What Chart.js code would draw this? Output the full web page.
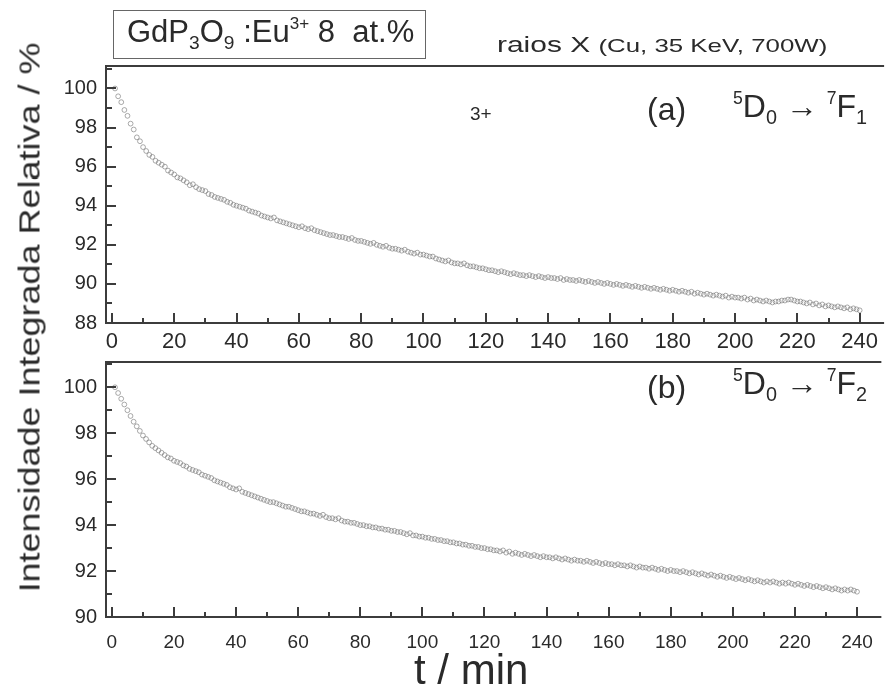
<!DOCTYPE html>
<html>
<head>
<meta charset="utf-8">
<script src="https://cdn.jsdelivr.net/npm/chart.js@4"></script>
<style>
  body { margin:0; background:#fff; width:887px; height:693px; position:relative; overflow:hidden;
         font-family:"Liberation Sans", Arial, sans-serif; color:#2a2a2a; }
  .panel { position:absolute; left:0; width:887px; }
  .txt { position:absolute; white-space:nowrap; line-height:1; }
  .txt sub { font-size:0.62em; vertical-align:-0.35em; }
  .txt sup { font-size:0.55em; vertical-align:0.75em; }
</style>
</head>
<body>
<div class="panel" style="top:0;height:360px"><canvas id="panelA"></canvas></div>
<div class="panel" style="top:340px;height:353px"><canvas id="panelB"></canvas></div>

<div class="txt" style="left:113px;top:10px;width:311px;height:47px;border:1.5px solid #666;"></div>
<div class="txt" style="left:127px;top:15px;font-size:31px;">GdP<sub>3</sub>O<sub>9</sub> :Eu<sup>3+</sup> 8&nbsp; at.%</div>
<div class="txt" style="left:497px;top:34px;font-size:22px;transform:scaleX(1.36);transform-origin:left center;">raios X <span style="font-size:19px">(Cu, 35 KeV, 700W)</span></div>
<div class="txt" style="left:470px;top:104px;font-size:19px;">3+</div>
<div class="txt" style="left:647px;top:93px;font-size:32px;">(a)</div>
<div class="txt" style="left:733px;top:90px;font-size:32px;"><sup>5</sup>D<sub>0</sub> &rarr; <sup>7</sup>F<sub>1</sub></div>
<div class="txt" style="left:647px;top:371px;font-size:32px;">(b)</div>
<div class="txt" style="left:733px;top:367px;font-size:32px;"><sup>5</sup>D<sub>0</sub> &rarr; <sup>7</sup>F<sub>2</sub></div>
<div class="txt" style="left:-270px;top:303px;width:600px;text-align:center;font-size:29px;transform:rotate(-90deg) scaleX(1.24);">Intensidade Integrada Relativa / %</div>
<div class="txt" style="left:414px;top:649px;font-size:42px;">t / min</div>

<script>
// sampling times (min) and integrated intensities for both transitions
const minutes = Array.from({length: 240}, (_, i) => i + 1);

const intensF1 = [
  100.0, 99.6, 99.3, 98.9, 98.6, 98.2, 97.9, 97.5, 97.3, 97.0,
  96.8, 96.6, 96.5, 96.3, 96.2, 96.1, 96.0, 95.8, 95.7, 95.6,
  95.45, 95.4, 95.3, 95.2, 95.05, 95.1, 94.95, 94.85, 94.8, 94.75,
  94.6, 94.55, 94.45, 94.4, 94.35, 94.3, 94.2, 94.15, 94.05, 94.0,
  93.95, 93.9, 93.85, 93.75, 93.7, 93.65, 93.6, 93.5, 93.45, 93.4,
  93.35, 93.4, 93.25, 93.2, 93.15, 93.1, 93.05, 93.0, 92.95, 92.9,
  92.95, 92.85, 92.8, 92.85, 92.75, 92.7, 92.65, 92.6, 92.55, 92.5,
  92.5, 92.45, 92.4, 92.4, 92.35, 92.3, 92.35, 92.25, 92.2, 92.2,
  92.15, 92.1, 92.05, 92.1, 92.0, 91.95, 91.9, 91.95, 91.85, 91.8,
  91.8, 91.75, 91.7, 91.75, 91.65, 91.6, 91.55, 91.6, 91.5, 91.5,
  91.45, 91.4, 91.4, 91.3, 91.25, 91.2, 91.15, 91.2, 91.1, 91.05,
  91.05, 91.0, 91.05, 90.95, 90.9, 90.9, 90.85, 90.8, 90.8, 90.75,
  90.7, 90.7, 90.65, 90.6, 90.65, 90.6, 90.55, 90.5, 90.55, 90.5,
  90.45, 90.45, 90.4, 90.45, 90.4, 90.35, 90.4, 90.35, 90.3, 90.35,
  90.3, 90.3, 90.25, 90.3, 90.2, 90.25, 90.2, 90.2, 90.15, 90.2,
  90.15, 90.1, 90.15, 90.1, 90.05, 90.1, 90.05, 90.0, 90.05, 90.0,
  89.95, 90.0, 89.95, 89.9, 89.95, 89.9, 89.85, 89.9, 89.85, 89.8,
  89.85, 89.8, 89.75, 89.8, 89.75, 89.7, 89.75, 89.7, 89.65, 89.7,
  89.65, 89.6, 89.65, 89.6, 89.55, 89.6, 89.5, 89.55, 89.5, 89.45,
  89.5, 89.45, 89.4, 89.45, 89.4, 89.35, 89.4, 89.3, 89.35, 89.3,
  89.3, 89.25, 89.3, 89.2, 89.25, 89.15, 89.2, 89.15, 89.1, 89.15,
  89.1, 89.05, 89.1, 89.1, 89.15, 89.15, 89.2, 89.2, 89.15, 89.1,
  89.1, 89.05, 89.0, 89.05, 88.95, 89.0, 88.9, 88.95, 88.85, 88.9,
  88.85, 88.8, 88.85, 88.8, 88.75, 88.8, 88.7, 88.75, 88.7, 88.65
];

const intensF2 = [
  100.0, 99.75, 99.5, 99.25, 99.0, 98.75, 98.5, 98.3, 98.1, 97.9,
  97.75, 97.6, 97.45, 97.35, 97.25, 97.15, 97.05, 96.95, 96.9, 96.8,
  96.75, 96.7, 96.6, 96.55, 96.45, 96.4, 96.35, 96.3, 96.2, 96.15,
  96.1, 96.05, 95.95, 95.9, 95.85, 95.8, 95.75, 95.65, 95.6, 95.55,
  95.6, 95.45, 95.4, 95.35, 95.3, 95.25, 95.2, 95.15, 95.1, 95.05,
  95.0, 95.0, 94.95, 94.9, 94.85, 94.8, 94.8, 94.75, 94.7, 94.65,
  94.6, 94.6, 94.55, 94.5, 94.5, 94.45, 94.4, 94.45, 94.35, 94.3,
  94.3, 94.25, 94.3, 94.2, 94.15, 94.15, 94.1, 94.1, 94.05, 94.0,
  94.0, 93.95, 93.95, 93.9, 93.9, 93.85, 93.85, 93.8, 93.8, 93.75,
  93.75, 93.7, 93.7, 93.65, 93.6, 93.65, 93.55, 93.55, 93.5, 93.5,
  93.45, 93.45, 93.4, 93.4, 93.35, 93.35, 93.3, 93.3, 93.25, 93.25,
  93.2, 93.2, 93.15, 93.15, 93.1, 93.1, 93.05, 93.05, 93.0, 93.0,
  92.95, 92.95, 92.9, 92.9, 92.85, 92.9, 92.8, 92.85, 92.75, 92.8,
  92.75, 92.7, 92.75, 92.7, 92.65, 92.7, 92.65, 92.6, 92.65, 92.6,
  92.6, 92.55, 92.6, 92.55, 92.5, 92.55, 92.5, 92.45, 92.5, 92.45,
  92.45, 92.4, 92.45, 92.4, 92.35, 92.4, 92.35, 92.3, 92.35, 92.3,
  92.3, 92.25, 92.3, 92.25, 92.25, 92.2, 92.25, 92.2, 92.15, 92.2,
  92.15, 92.15, 92.1, 92.15, 92.1, 92.05, 92.1, 92.05, 92.0, 92.05,
  92.0, 92.0, 91.95, 92.0, 91.95, 91.9, 91.95, 91.9, 91.85, 91.9,
  91.85, 91.8, 91.85, 91.8, 91.75, 91.8, 91.75, 91.7, 91.75, 91.7,
  91.65, 91.7, 91.65, 91.6, 91.65, 91.6, 91.55, 91.6, 91.55, 91.5,
  91.55, 91.5, 91.55, 91.5, 91.45, 91.5, 91.45, 91.5, 91.45, 91.4,
  91.45, 91.4, 91.35, 91.4, 91.35, 91.3, 91.35, 91.3, 91.25, 91.3,
  91.25, 91.2, 91.25, 91.2, 91.15, 91.2, 91.15, 91.2, 91.15, 91.1
];

const xTicksMajor = [0, 20, 40, 60, 80, 100, 120, 140, 160, 180, 200, 220, 240];

// open frame (top/left/bottom) with inward major + minor ticks
const frame = {
  id: "frame",
  afterDraw(chart) {
    const { ctx, chartArea: a, scales: { x, y } } = chart;
    ctx.save();
    ctx.strokeStyle = "#3c3c3c";
    ctx.lineWidth = 2;
    ctx.beginPath();
    ctx.moveTo(a.right + 2, a.top);
    ctx.lineTo(a.left, a.top);
    ctx.lineTo(a.left, a.bottom);
    ctx.lineTo(a.right + 2, a.bottom);
    ctx.stroke();
    ctx.beginPath();
    for (let v = 0; v <= 240; v += 10) {
      const px = Math.round(x.getPixelForValue(v));
      const len = v % 20 === 0 ? 10 : 5;
      ctx.moveTo(px, a.bottom);
      ctx.lineTo(px, a.bottom - len);
    }
    for (let v = Math.ceil(y.min); v <= Math.floor(y.max); v++) {
      const py = Math.round(y.getPixelForValue(v));
      const len = v % 2 === 0 ? 10 : 6;
      ctx.moveTo(a.left, py);
      ctx.lineTo(a.left + len, py);
    }
    ctx.stroke();
    ctx.restore();
  }
};

function makePanel(id, values, yMin, yMax, padTop, xAxisH, xFont, xPad) {
  const pts = minutes.map((t, i) => ({ x: t, y: values[i] }));
  return new Chart(document.getElementById(id), {
    type: "scatter",
    data: {
      datasets: [{
        data: pts,
        pointStyle: "circle",
        pointRadius: 2.4,
        pointBorderWidth: 0.9,
        pointBorderColor: "rgba(120,120,120,0.7)",
        pointBackgroundColor: "rgba(255,255,255,0)"
      }]
    },
    options: {
      responsive: true,
      maintainAspectRatio: false,
      animation: false,
      layout: { padding: { top: padTop, right: 0, left: 0, bottom: 0 } },
      plugins: { legend: { display: false }, tooltip: { enabled: false } },
      scales: {
        x: {
          type: "linear",
          min: -1.9,
          max: 247.2,
          afterBuildTicks: s => { s.ticks = xTicksMajor.map(v => ({ value: v })); },
          afterFit: s => { s.height = xAxisH; },
          grid: { display: false, drawTicks: false },
          border: { display: false },
          ticks: { color: "#2a2a2a", font: { family: "Liberation Sans", size: xFont }, padding: xPad, maxRotation: 0, autoSkip: false }
        },
        y: {
          min: yMin,
          max: yMax,
          afterFit: s => { s.width = 106; },
          grid: { display: false, drawTicks: false },
          border: { display: false },
          ticks: { stepSize: 2, includeBounds: false, color: "#2a2a2a", font: { family: "Liberation Sans", size: 20 }, padding: 9 }
        }
      }
    },
    plugins: [frame]
  });
}

makePanel("panelA", intensF1, 88, 101.15, 66, 37, 22, 6);
makePanel("panelB", intensF2, 90, 101.1, 22, 76, 19, 14);
</script>
</body>
</html>
